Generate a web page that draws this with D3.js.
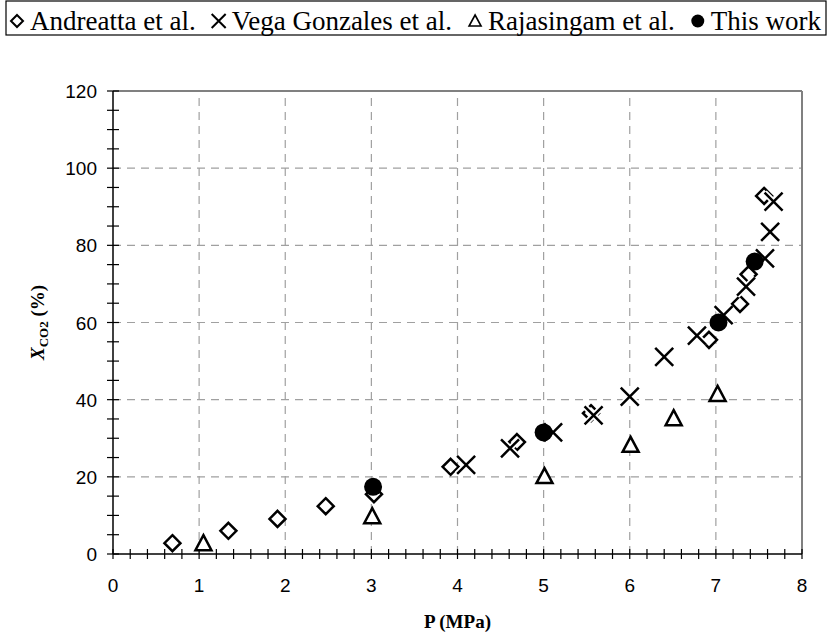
<!DOCTYPE html>
<html>
<head>
<meta charset="utf-8">
<script src="https://cdn.jsdelivr.net/npm/d3@7"></script>
<style>
  body { margin: 0; background: #fff; }
  svg { display: block; }
</style>
</head>
<body>
<div id="chart"></div>
<script>
// data: [P (MPa), X_CO2 (%)]
var andreatta = [[0.69, 2.8], [1.34, 6.0], [1.91, 9.1], [2.47, 12.4], [3.03, 15.5],
                 [3.92, 22.6], [4.69, 29.0], [5.55, 36.5], [6.92, 55.5], [7.28, 64.8],
                 [7.38, 72.5], [7.56, 92.8]];
var vegaGonzales = [[4.10, 23.1], [4.61, 27.4], [5.11, 31.5], [5.58, 35.9], [6.00, 40.8],
                    [6.40, 51.1], [6.78, 56.6], [7.09, 61.9], [7.35, 69.3], [7.57, 76.6],
                    [7.63, 83.5], [7.67, 91.3]];
var rajasingam = [[1.05, 2.8], [3.01, 9.8], [5.01, 20.2], [6.01, 28.3], [6.51, 35.2], [7.02, 41.5]];
var thisWork = [[3.02, 17.4], [5.00, 31.5], [7.03, 60.0], [7.45, 75.8]];

var xTicks = [0, 1, 2, 3, 4, 5, 6, 7, 8];
var yTicks = [0, 20, 40, 60, 80, 100, 120];
var legendLabels = ["Andreatta et al.", "Vega Gonzales et al.", "Rajasingam et al.", "This work"];

var width = 829, height = 635;
var margin = {left: 113, right: 27, top: 91, bottom: 81};

var svg = d3.select("#chart").append("svg")
    .attr("width", width)
    .attr("height", height);

var x = d3.scaleLinear().domain([0, 8]).range([margin.left, width - margin.right]);
var y = d3.scaleLinear().domain([0, 120]).range([height - margin.bottom, margin.top]);

// grid
svg.append("g").selectAll("line")
    .data(xTicks.slice(1, -1))
    .enter().append("line")
    .attr("x1", d => x(d)).attr("x2", d => x(d))
    .attr("y1", y(0)).attr("y2", y(120))
    .attr("stroke", "#a0a0a0").attr("stroke-width", 1.2)
    .attr("stroke-dasharray", "8,6");
svg.append("g").selectAll("line")
    .data(yTicks.slice(1, -1))
    .enter().append("line")
    .attr("x1", x(0)).attr("x2", x(8))
    .attr("y1", d => y(d)).attr("y2", d => y(d))
    .attr("stroke", "#a0a0a0").attr("stroke-width", 1.2)
    .attr("stroke-dasharray", "8,6");

// top and right border (grey)
svg.append("line")
    .attr("x1", x(0)).attr("x2", x(8)).attr("y1", y(120)).attr("y2", y(120))
    .attr("stroke", "#808080").attr("stroke-width", 2);
svg.append("line")
    .attr("x1", x(8)).attr("x2", x(8)).attr("y1", y(0)).attr("y2", y(120))
    .attr("stroke", "#808080").attr("stroke-width", 2);

// axes with crossing ticks
var minorX = d3.range(0, 8.001, 0.2);
var minorY = d3.range(0, 120.001, 5);

var ax = svg.append("g");
ax.append("line")
    .attr("x1", x(0)).attr("x2", x(8)).attr("y1", y(0)).attr("y2", y(0))
    .attr("stroke", "#000").attr("stroke-width", 1.5);
ax.selectAll(".mx").data(minorX).enter().append("line")
    .attr("x1", d => x(d)).attr("x2", d => x(d))
    .attr("y1", y(0) - 5).attr("y2", y(0) + 5)
    .attr("stroke", "#000").attr("stroke-width", 1.2);
ax.selectAll(".tx").data(xTicks).enter().append("text")
    .attr("x", d => x(d)).attr("y", y(0) + 38)
    .attr("text-anchor", "middle")
    .attr("font-family", "Liberation Sans, Arial, sans-serif")
    .attr("font-size", 19)
    .text(d => d);

var ay = svg.append("g");
ay.append("line")
    .attr("x1", x(0)).attr("x2", x(0)).attr("y1", y(0)).attr("y2", y(120))
    .attr("stroke", "#000").attr("stroke-width", 1.5);
ay.selectAll(".my").data(minorY).enter().append("line")
    .attr("x1", x(0) - 6).attr("x2", x(0) + 6)
    .attr("y1", d => y(d)).attr("y2", d => y(d))
    .attr("stroke", "#000").attr("stroke-width", 1.2);
ay.selectAll(".ty").data(yTicks).enter().append("text")
    .attr("x", x(0) - 16).attr("y", d => y(d) + 7)
    .attr("text-anchor", "end")
    .attr("font-family", "Liberation Sans, Arial, sans-serif")
    .attr("font-size", 19)
    .text(d => d);

// axis titles
svg.append("text")
    .attr("x", (x(0) + x(8)) / 2).attr("y", height - 7)
    .attr("text-anchor", "middle")
    .attr("font-family", "Liberation Serif, Times New Roman, serif")
    .attr("font-weight", "bold").attr("font-size", 19)
    .text("P (MPa)");

var yt = svg.append("text")
    .attr("transform", "translate(44," + ((y(0) + y(120)) / 2) + ") rotate(-90)")
    .attr("text-anchor", "middle")
    .attr("font-family", "Liberation Serif, Times New Roman, serif")
    .attr("font-weight", "bold").attr("font-size", 19);
yt.append("tspan").attr("font-style", "italic").text("X");
yt.append("tspan").attr("font-size", 13).attr("dy", 4).text("CO2");
yt.append("tspan").attr("dy", -4).text(" (%)");

// marker shapes
var diamondPath = "M0,-8L8,0L0,8L-8,0Z";
var trianglePath = "M0,-8L8,7L-8,7Z";
var crossPath = "M-9,-9L9,9M-9,9L9,-9";

var plot = svg.append("g");

plot.selectAll(".dia").data(andreatta).enter().append("path")
    .attr("transform", d => "translate(" + x(d[0]) + "," + y(d[1]) + ")")
    .attr("d", diamondPath)
    .attr("fill", "#fff").attr("stroke", "#000").attr("stroke-width", 2.5);

// white underlay so crosses cut through what lies beneath
plot.selectAll(".crossbg").data(vegaGonzales).enter().append("path")
    .attr("transform", d => "translate(" + x(d[0]) + "," + y(d[1]) + ")")
    .attr("d", crossPath)
    .attr("fill", "none").attr("stroke", "#fff").attr("stroke-width", 6);
plot.selectAll(".cross").data(vegaGonzales).enter().append("path")
    .attr("transform", d => "translate(" + x(d[0]) + "," + y(d[1]) + ")")
    .attr("d", crossPath)
    .attr("fill", "none").attr("stroke", "#000").attr("stroke-width", 2.5);

plot.selectAll(".tri").data(rajasingam).enter().append("path")
    .attr("transform", d => "translate(" + x(d[0]) + "," + y(d[1]) + ")")
    .attr("d", trianglePath)
    .attr("fill", "#fff").attr("stroke", "#000").attr("stroke-width", 2.5)
    .attr("stroke-linejoin", "miter");

plot.selectAll(".dot").data(thisWork).enter().append("circle")
    .attr("cx", d => x(d[0])).attr("cy", d => y(d[1]))
    .attr("r", 9)
    .attr("fill", "#000");

// legend
var leg = svg.append("g");
leg.append("rect")
    .attr("x", 6).attr("y", 1).attr("width", 820).attr("height", 34)
    .attr("fill", "#fff").attr("stroke", "#000").attr("stroke-width", 1.2);

var legSymbols = [
  function(g) { g.append("path").attr("d", "M0,-6L6,0L0,6L-6,0Z").attr("fill", "#fff").attr("stroke", "#000").attr("stroke-width", 2); },
  function(g) { g.append("path").attr("d", "M-7,-7L7,7M-7,7L7,-7").attr("stroke", "#000").attr("stroke-width", 2); },
  function(g) { g.append("path").attr("d", "M0,-6L6,5L-6,5Z").attr("fill", "#fff").attr("stroke", "#000").attr("stroke-width", 1.6); },
  function(g) { g.append("circle").attr("r", 6.5).attr("fill", "#000"); }
];

var legFont = 27;
var cx = 17;
legendLabels.forEach(function(lbl, i) {
  var g = leg.append("g").attr("transform", "translate(" + cx + ",21)");
  legSymbols[i](g);
  var t = leg.append("text")
      .attr("x", cx + 13).attr("y", 30)
      .attr("font-family", "Liberation Serif, Times New Roman, serif")
      .attr("font-size", legFont)
      .text(lbl);
  cx += 13 + t.node().getComputedTextLength() + 23;
});
</script>
</body>
</html>
